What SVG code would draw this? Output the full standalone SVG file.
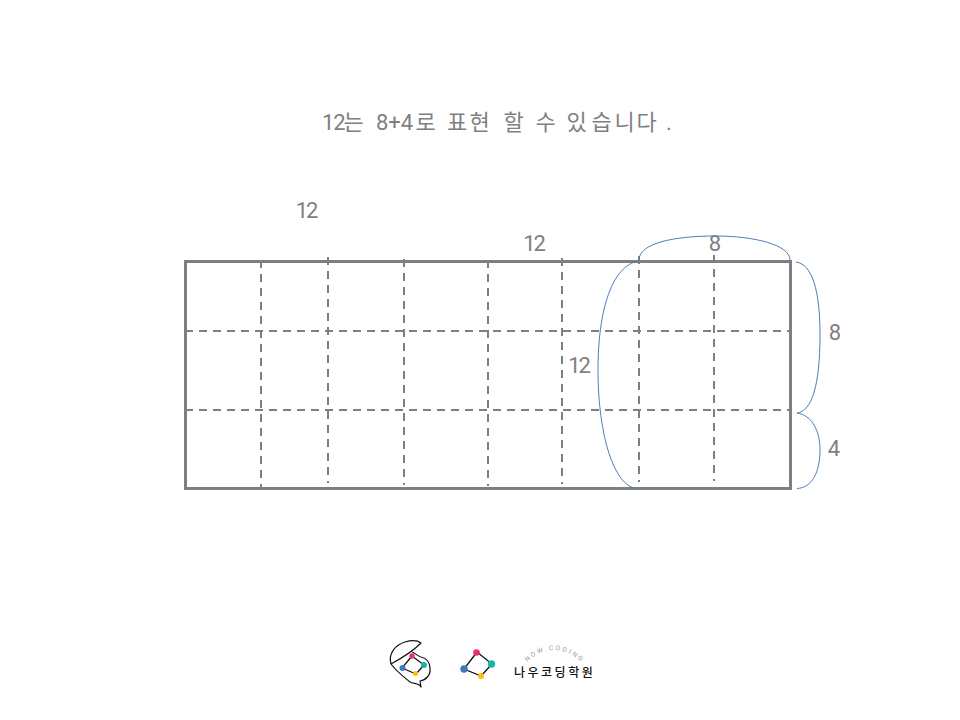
<svg xmlns="http://www.w3.org/2000/svg" width="960" height="720" viewBox="0 0 960 720">
<style>
text{font-family:Roboto,"Noto Sans CJK KR",sans-serif;fill:#7f7f7f}
.n{font-size:22px;text-anchor:middle;letter-spacing:-2px}
.t{font-size:22px;letter-spacing:-1px}
.h{font-size:22px}
.d{fill:none;stroke:#7f7f7f;stroke-width:2;stroke-dasharray:8 6}
.b{fill:none;stroke:#4a7ebb;stroke-width:1}
.k{fill:none;stroke:#111;stroke-width:1.2;stroke-linejoin:round}
</style>
<rect width="960" height="720" fill="#fff"/>
<g id="title"><text y="130"><tspan class="t" x="322">12</tspan><tspan class="h" x="343.500">는</tspan><tspan class="t" x="376" style="letter-spacing:0">8+4</tspan><tspan class="h" x="415.500">로</tspan><tspan class="h" x="447 469.500">표현</tspan><tspan class="h" x="503.500">할</tspan><tspan class="h" x="535.500">수</tspan><tspan class="h" x="566.500 591.500 614.500 636.500 666">있습니다.</tspan></text></g>
<g id="grid">
<path class="d" d="M261 260V487M328 257V483M404 259V485M488 260V486M562 258V484M639 256V482M714 255V481"/>
<path class="d" d="M185 331H790M185 410H790"/>
<rect x="185.500" y="261.500" width="605" height="227" fill="none" stroke="#7f7f7f" stroke-width="3"/>
</g>
<g id="braces">
<path class="b" d="M639 260C639 243 675 236 715 236C755 236 790 245 790 260"/>
<path class="b" d="M639 261C612 265 598 310 598 370C598 430 612 482 634 488"/>
<path class="b" d="M796 262C812 264 820 290 820 335C820 385 812 411 797 413"/>
<path class="b" d="M797 413C812 415 820 431 820 450C820 472 812 488 797 488.500"/>
</g>
<g id="labels">
<text class="n" x="306" y="218">12</text>
<text class="n" x="533.500" y="251">12</text>
<text class="n" x="714" y="251">8</text>
<text class="n" x="578.500" y="373">12</text>
<text class="n" x="834" y="340">8</text>
<text class="n" x="833" y="456">4</text>
</g>
<g id="logo">
<path class="k" d="M391 664C388 654 395 645 405 642C412 640 417 640 421 643C414 650 402 658 391 664C397 672 404 677 410 682C414 684 419 683 421 687L420 681C426 680 431 675 430 668C430 663 427 658 421 657C417 656 414 652 412 652"/>
<path class="k" d="M412 656L424 665L416 674L402 668Z"/>
<circle cx="412" cy="656" r="2.700" fill="#e8336d"/><circle cx="424" cy="665" r="3" fill="#17b5a5"/><circle cx="402.500" cy="668" r="3" fill="#3f78c0"/><circle cx="415.500" cy="673.500" r="2.500" fill="#fbbf0e"/>
<path d="M477 652L492 664L481 676L464 669Z" fill="none" stroke="#111" stroke-width="1.300"/>
<circle cx="476.500" cy="652.500" r="3.300" fill="#e8336d"/><circle cx="491.500" cy="664" r="3.700" fill="#17b5a5"/><circle cx="464" cy="669" r="3.700" fill="#3f78c0"/><circle cx="481" cy="676" r="3" fill="#fbbf0e"/>
<path id="arc" d="M527 662Q553 638 582 662" fill="none"/>
<text font-size="6.500" style="fill:#999;letter-spacing:2.200px"><textPath href="#arc">NOW CODING</textPath></text>
<text x="514" y="677" font-size="12" font-weight="500" style="fill:#111;letter-spacing:2.500px">나우코딩학원</text>
</g>
</svg>
